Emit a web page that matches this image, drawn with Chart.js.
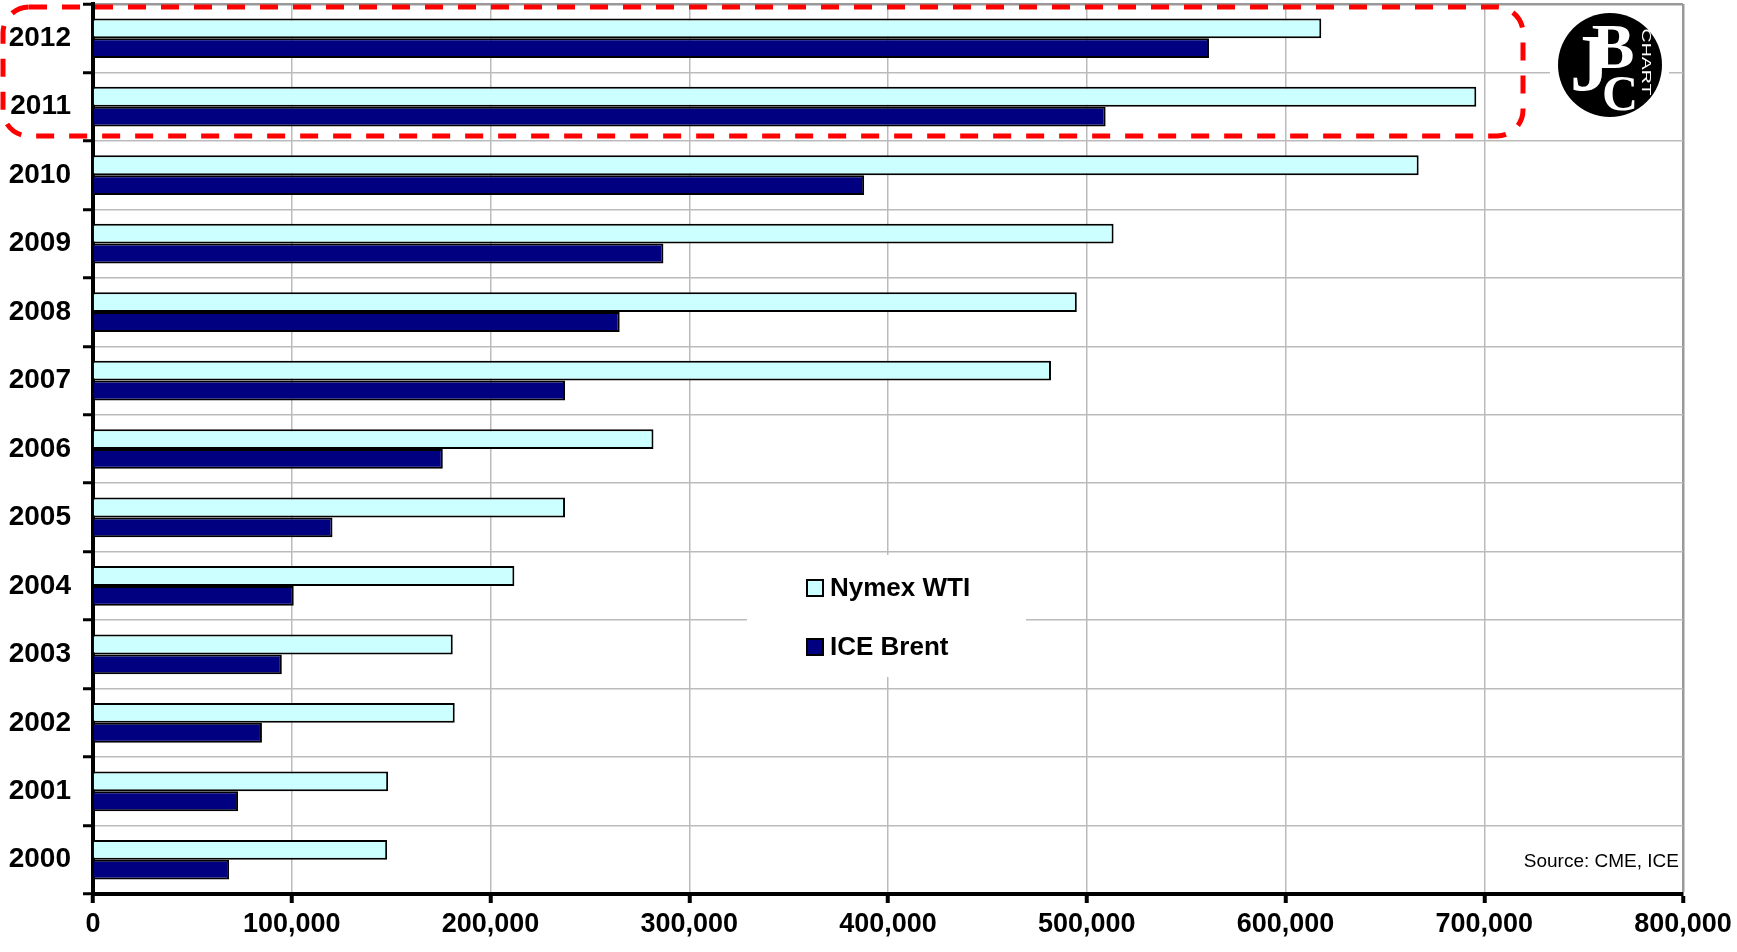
<!DOCTYPE html>
<html>
<head>
<meta charset="utf-8">
<title>Nymex WTI vs ICE Brent</title>
<script src="https://cdn.jsdelivr.net/npm/chart.js@4.4.1/dist/chart.umd.min.js"></script>
<style>
  html, body { margin: 0; padding: 0; background: #fff; }
  #wrap { position: relative; width: 1737px; height: 952px; }
</style>
</head>
<body>
<div id="wrap"><canvas id="chart" width="1737" height="952"></canvas></div>
<script>
// categories, top to bottom as drawn
const years = ['2012', '2011', '2010', '2009', '2008', '2007', '2006',
               '2005', '2004', '2003', '2002', '2001', '2000'];
// average daily volume (contracts)
const wtiVolume   = [618000, 696000, 667000, 513500, 495000, 482000, 282000,
                     237500, 212000, 181000, 182000, 148500, 148000];
const brentVolume = [561500, 509500, 388000, 287000, 265000, 237500, 176000,
                     120500, 101000, 95000, 85000, 73000, 68500];
const xTicks = [0, 100000, 200000, 300000, 400000, 500000, 600000, 700000, 800000];
const seriesNames = ['Nymex WTI', 'ICE Brent'];
const sourceNote = 'Source: CME, ICE';

const WTI_FILL = '#ccffff';
const BRENT_FILL = '#000080';
const FONT = '"Liberation Sans", Arial, sans-serif';

// red dashed box round 2011-2012, JBC logo, legend box, source note
const overlays = {
  id: 'overlays',
  afterDraw(chart) {
    const ctx = chart.ctx;
    ctx.save();

    // highlight box
    ctx.setLineDash([18, 15]);
    ctx.lineWidth = 5;
    ctx.strokeStyle = '#ff0000';
    ctx.beginPath();
    ctx.roundRect(3, 7, 1520, 129, 26);
    ctx.stroke();
    ctx.setLineDash([]);

    // logo
    ctx.fillStyle = '#fff';
    ctx.fillRect(1550, 10, 119, 112);
    ctx.fillStyle = '#000';
    ctx.beginPath();
    ctx.arc(1610, 65, 52, 0, Math.PI * 2);
    ctx.fill();
    ctx.fillStyle = '#fff';
    ctx.textAlign = 'center';
    ctx.textBaseline = 'alphabetic';
    ctx.font = 'bold 80px "Liberation Serif", serif';
    ctx.fillText('J', 1590, 90);
    ctx.font = 'bold 64px "Liberation Serif", serif';
    ctx.fillText('B', 1613, 68);
    ctx.font = 'bold 50px "Liberation Serif", serif';
    ctx.fillText('C', 1620, 110);
    ctx.save();
    ctx.translate(1646, 62);
    ctx.rotate(Math.PI / 2);
    ctx.scale(1.5, 1);
    ctx.font = '13px ' + FONT;
    ctx.textBaseline = 'middle';
    ctx.fillText('CHART', 0, 0);
    ctx.restore();

    // legend
    const ds = chart.data.datasets;
    ctx.fillStyle = '#fff';
    ctx.fillRect(747, 555, 279, 122);
    ctx.textAlign = 'left';
    ctx.textBaseline = 'middle';
    ctx.font = 'bold 26px ' + FONT;
    [588, 647].forEach((cy, i) => {
      ctx.fillStyle = ds[i].backgroundColor;
      ctx.fillRect(807, cy - 8, 16, 16);
      ctx.lineWidth = 2;
      ctx.strokeStyle = '#000';
      ctx.strokeRect(807, cy - 8, 16, 16);
      ctx.fillStyle = '#000';
      ctx.fillText(ds[i].label, 830, cy + 1);
    });

    // source
    ctx.font = '19px ' + FONT;
    ctx.textAlign = 'right';
    ctx.fillText(sourceNote, 1679, 862);

    ctx.restore();
  }
};

new Chart(document.getElementById('chart'), {
  type: 'bar',
  data: {
    labels: years,
    datasets: [
      { label: seriesNames[0], data: wtiVolume, backgroundColor: WTI_FILL },
      { label: seriesNames[1], data: brentVolume, backgroundColor: BRENT_FILL }
    ]
  },
  options: {
    indexAxis: 'y',
    responsive: false,
    animation: false,
    devicePixelRatio: 1,
    layout: { padding: { top: 4, right: 54, bottom: 0, left: 0 } },
    datasets: {
      bar: {
        borderColor: '#000',
        borderWidth: 2,
        categoryPercentage: 0.58,
        barPercentage: 1.0
      }
    },
    plugins: {
      legend: { display: false },
      tooltip: { enabled: false }
    },
    scales: {
      x: {
        min: 0,
        max: 800000,
        afterBuildTicks: s => { s.ticks = xTicks.map(v => ({ value: v })); },
        afterFit: s => { s.height = 58; s.paddingLeft = 0; s.paddingRight = 0; },
        ticks: {
          autoSkip: false,
          maxRotation: 0,
          padding: 5,
          color: '#000',
          font: { family: FONT, size: 27, weight: 'bold' },
          callback: v => v.toLocaleString('en-US')
        },
        grid: {
          color: c => c.index === xTicks.length - 1 ? '#999' : '#bbb',
          lineWidth: c => c.index === xTicks.length - 1 ? 2.5 : 1.5,
          tickColor: '#000',
          tickWidth: 4,
          tickLength: 9
        },
        border: { color: '#000', width: 4 }
      },
      y: {
        afterFit: s => { s.width = 93; s.paddingTop = 0; s.paddingBottom = 0; },
        ticks: {
          padding: 12,
          color: '#000',
          font: { family: FONT, size: 28, weight: 'bold' }
        },
        grid: {
          color: c => c.index === 0 ? '#999' : '#bbb',
          lineWidth: c => c.index === 0 ? 2.5 : 1.5,
          tickColor: '#000',
          tickWidth: 3,
          tickLength: 10
        },
        border: { color: '#000', width: 4 }
      }
    }
  },
  plugins: [overlays]
});
</script>
</body>
</html>
